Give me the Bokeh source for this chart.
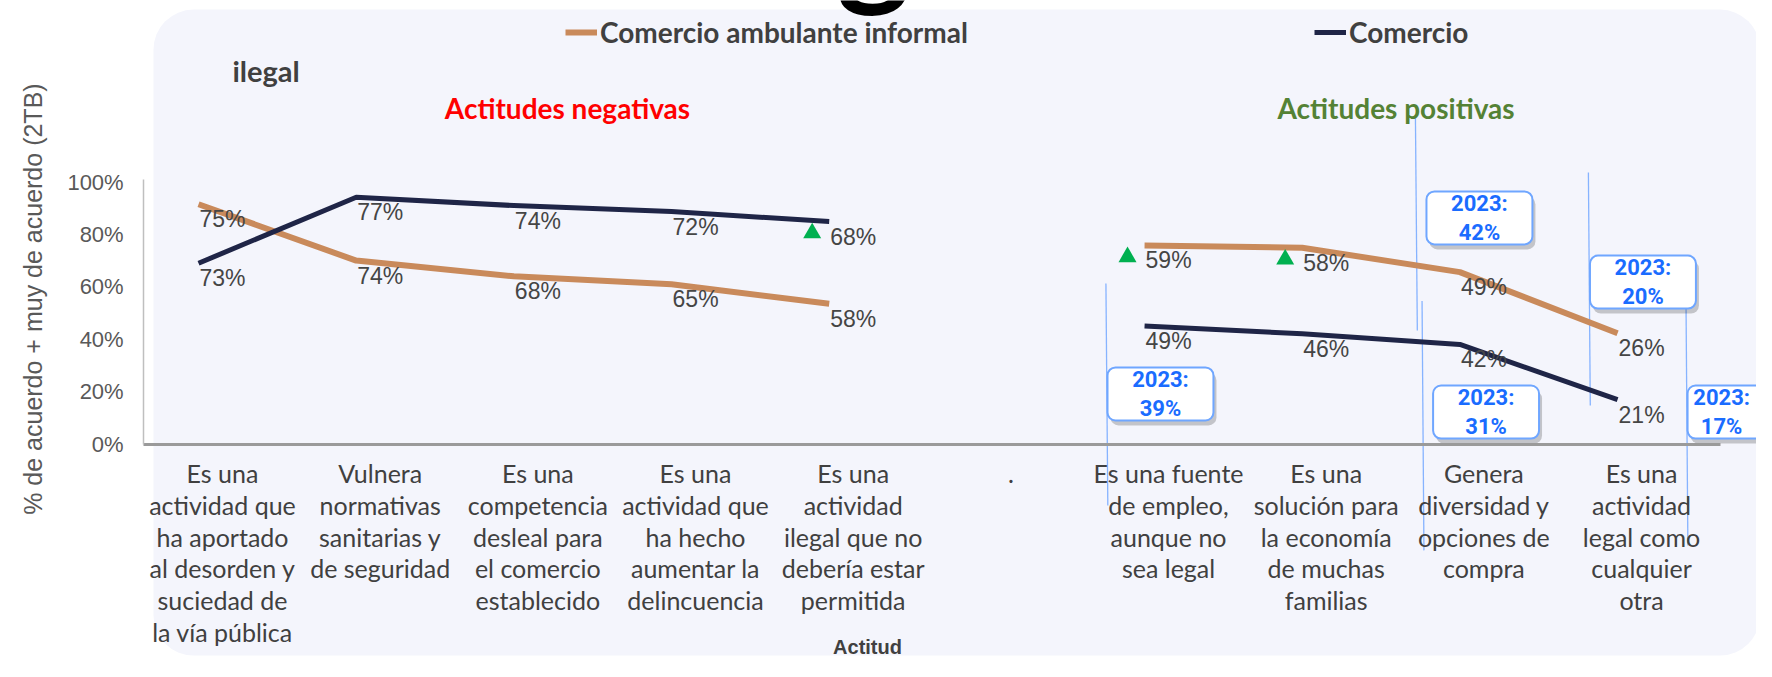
import numpy as np
from bokeh.plotting import figure
from bokeh.models import (Range1d, LinearAxis, FixedTicker, PrintfTickFormatter,
                          ColumnDataSource, Legend, LegendItem)
from bokeh.core.properties import value
from bokeh.transform import dodge
from bokeh.embed import file_html
from bokeh.resources import INLINE

nan = float("nan")

# ---------------- data ----------------
categories = [
    "Es una\nactividad que\nha aportado\nal desorden y\nsuciedad de\nla vía pública",
    "Vulnera\nnormativas\nsanitarias y\nde seguridad",
    "Es una\ncompetencia\ndesleal para\nel comercio\nestablecido",
    "Es una\nactividad que\nha hecho\naumentar la\ndelincuencia",
    "Es una\nactividad\nilegal que no\ndebería estar\npermitida",
    ".",
    "Es una fuente\nde empleo,\naunque no\nsea legal",
    "Es una\nsolución para\nla economía\nde muchas\nfamilias",
    "Genera\ndiversidad y\nopciones de\ncompra",
    "Es una\nactividad\nlegal como\ncualquier\notra",
]
ambulante = [91.5, 70.0, 64.0, 61.0, 53.5, nan, 75.8, 74.9, 65.6, 42.3]
comercio = [69.0, 94.2, 91.0, 88.7, 84.9, nan, 45.0, 42.1, 38.0, 16.9]
ambulante_labels = ["75%", "74%", "68%", "65%", "58%", "", "59%", "58%", "49%", "26%"]
comercio_labels = ["73%", "77%", "74%", "72%", "68%", "", "49%", "46%", "42%", "21%"]
y_ticks = [0, 20, 40, 60, 80, 100]

# significant-increase markers: (series, category index)
up_marks = [("comercio", 4), ("ambulante", 6), ("ambulante", 7)]

# 2023 comparison call-outs: category position, vertical position, text
callout_x = [5.949, 7.972, 8.014, 9.009, 9.628]
callout_y = [19.1, 86.3, 12.2, 61.8, 12.2]
callout_text = ["2023:\n39%", "2023:\n42%", "2023:\n31%", "2023:\n20%", "2023:\n17%"]
callout_text_shift = [0, 0, 0, 0, -0.12]
# thin leader lines drawn at call-out left edges (top, bottom in % units)
leader_top = [61.3, 124.6, 54.6, 103.6, 54.6]
leader_bottom = [-23.5, 43.3, -40.6, 14.7, -38.7]
leader_box = [0, 1, 2, 3, 4]
leader_shift = [-0.01, -0.07, -0.07, -0.01, -0.01]

# ---------------- layout constants ----------------
W, H = 1756, 661
PX_X = 157.67          # pixels per category
X0_PX = 222.0          # pixel of first category centre
PX_Y = 2.62            # pixels per percentage point
Y0_PX = 443.5          # pixel of 0 %

ORANGE = "#C98A5B"
NAVY = "#1F2547"
GREY = "#404040"

p = figure(width=W, height=H, output_backend="svg", toolbar_location=None,
           x_range=Range1d(-X0_PX / PX_X, (W - X0_PX) / PX_X),
           y_range=Range1d(-(H - Y0_PX) / PX_Y, Y0_PX / PX_Y),
           x_axis_location=None, y_axis_location=None, min_border=0)
p.outline_line_color = None
p.background_fill_color = "white"
p.border_fill_color = "white"
p.grid.visible = False

n = len(categories)
idx = list(range(n))

# panel background
p.quad(left=[-0.4376], right=[9.752], top=[165.8], bottom=[-80.7],
       fill_color="#F4F5FC", line_color=None, border_radius=40)

# big cropped heading glyph at the top
p.text(x=[4.13], y=[161.6], text=["g"], text_font=value("Lato"),
       text_font_size="140px", text_color="black", text_align="center",
       text_baseline="bottom", text_font_style="bold")

# leader lines
lx = [callout_x[b] - 0.336 + s for b, s in zip(leader_box, leader_shift)]
p.segment(x0=lx, y0=leader_top, x1=[v + 0.012 for v in lx], y1=leader_bottom,
          line_color="#86B3FF", line_width=1.3)

src = ColumnDataSource(dict(x=idx, amb=ambulante, com=comercio,
                            amb_lab=ambulante_labels, com_lab=comercio_labels))

r_amb = p.line(x=dodge("x", -0.152), y="amb", source=src, line_color=ORANGE,
               line_width=6, line_join="round")
r_com = p.line(x=dodge("x", -0.152), y="com", source=src, line_color=NAVY,
               line_width=5, line_join="round")

lab_kw = dict(text_font=value("Liberation Sans"), text_font_size="23px",
              text_color="#454545", text_align="left", text_baseline="middle",
              x_offset=1, y_offset=15)
p.text(x=dodge("x", -0.152), y="amb", text="amb_lab", source=src, **lab_kw)
p.text(x=dodge("x", -0.152), y="com", text="com_lab", source=src, **lab_kw)

# up-triangles
tx = [i for _, i in up_marks]
ty = [(ambulante if s == "ambulante" else comercio)[i] for s, i in up_marks]
tsrc = ColumnDataSource(dict(x=tx, y=ty))
p.scatter(x=dodge("x", -0.152 - 0.108), y=dodge("y", -4.4), source=tsrc,
          marker="triangle", size=18, fill_color="#00B050", line_color=None)

# call-out boxes
hw, hh = 0.336, 10.11
cl = [x - hw for x in callout_x]
cr = [x + hw for x in callout_x]
ct = [y + hh for y in callout_y]
cb = [y - hh for y in callout_y]
dx, dy = 3 / PX_X, -5 / PX_Y
p.quad(left=[v + dx for v in cl], right=[v + dx for v in cr],
       top=[v + dy for v in ct], bottom=[v + dy for v in cb],
       fill_color="black", fill_alpha=0.2, line_color=None, border_radius=8)
p.quad(left=cl, right=cr, top=ct, bottom=cb, fill_color="white",
       line_color="#6FA6FF", line_width=2, border_radius=8)
p.text(x=[x + s for x, s in zip(callout_x, callout_text_shift)], y=callout_y,
       text=callout_text, text_font=value("Roboto"),
       text_font_style="bold", text_font_size="22px", text_color="#1A6CFF",
       text_align="center", text_baseline="middle", text_line_height=1.15)

# titles / annotations
p.text(x=[0.063], y=[142.6], text=["ilegal"], text_font=value("Lato"),
       text_font_style="bold", text_font_size="29px", text_color=GREY,
       text_align="left", text_baseline="middle")
p.text(x=[2.188], y=[128.1], text=["Actitudes negativas"], text_font=value("Lato"),
       text_font_style="bold", text_font_size="28px", text_color="#FF0000",
       text_align="center", text_baseline="middle")
p.text(x=[7.443], y=[128.1], text=["Actitudes positivas"], text_font=value("Lato"),
       text_font_style="bold", text_font_size="28px", text_color="#548235",
       text_align="center", text_baseline="middle")
p.text(x=[-1.205], y=[55.3], text=["% de acuerdo + muy de acuerdo (2TB)"],
       angle=np.pi / 2, text_font=value("Liberation Sans"), text_font_size="25px",
       text_color="#595959", text_align="center", text_baseline="middle")
p.text(x=[4.091], y=[-77.3], text=["Actitud"], text_font=value("Liberation Sans"),
       text_font_style="bold", text_font_size="20px", text_color=GREY,
       text_align="center", text_baseline="middle")

# axes (drawn in place, inside the frame)
yax = LinearAxis(fixed_location=-0.5, bounds=(0, 101),
                 ticker=FixedTicker(ticks=y_ticks),
                 formatter=PrintfTickFormatter(format="%d%%"))
yax.axis_line_color = "#BFBFBF"
yax.axis_line_width = 1.5
yax.major_tick_line_color = None
yax.minor_tick_line_color = None
yax.major_label_standoff = 14
yax.major_label_text_font = "Liberation Sans"
yax.major_label_text_font_size = "22px"
yax.major_label_text_color = "#595959"
p.add_layout(yax, "left")

xax = LinearAxis(fixed_location=0, bounds=(-0.5, n - 0.5),
                 ticker=FixedTicker(ticks=idx),
                 major_label_overrides={i: c for i, c in enumerate(categories)})
xax.axis_line_color = "#9A9A9A"
xax.axis_line_width = 3
xax.major_tick_line_color = None
xax.minor_tick_line_color = None
xax.major_label_standoff = 8
xax.major_label_text_font = "Lato"
xax.major_label_text_font_size = "25px"
xax.major_label_text_color = GREY
xax.major_label_text_line_height = 1.06
p.add_layout(xax, "below")

# legend (two single-item legends)
leg_kw = dict(orientation="horizontal", padding=0, margin=0, border_line_color=None,
              background_fill_alpha=0, glyph_width=32, label_standoff=3,
              label_text_font="Lato", label_text_font_style="bold",
              label_text_font_size="28px", label_text_color=GREY)
leg1 = Legend(items=[LegendItem(label="Comercio ambulante informal", renderers=[r_amb])],
              location=(565, 612), **leg_kw)
leg2 = Legend(items=[LegendItem(label="Comercio", renderers=[r_com])],
              location=(1314, 612), **leg_kw)
p.add_layout(leg1)
p.add_layout(leg2)

open("out.html", "w").write(file_html(p, INLINE))
